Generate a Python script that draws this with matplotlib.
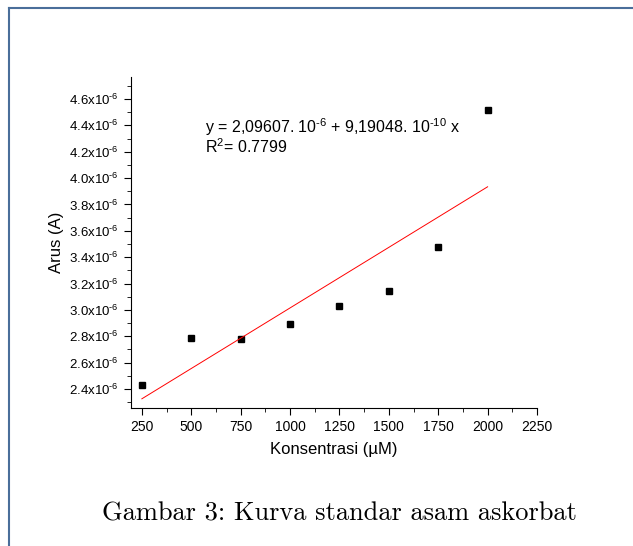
import numpy as np
import matplotlib.pyplot as plt
from matplotlib.lines import Line2D
from matplotlib.ticker import MultipleLocator, FuncFormatter

plt.rcParams['mathtext.fontset'] = 'custom'
plt.rcParams['mathtext.rm'] = 'Liberation Sans'
plt.rcParams['mathtext.it'] = 'Liberation Sans'
plt.rcParams['font.family'] = 'Liberation Sans'

# data (konsentrasi uM, arus A)
konsentrasi = [250, 500, 750, 1000, 1250, 1500, 1750, 2000]
arus = [2.43e-6, 2.79e-6, 2.78e-6, 2.89e-6, 3.03e-6, 3.14e-6, 3.48e-6, 4.52e-6]
intercept = 2.09607e-6
slope = 9.19048e-10

fig = plt.figure(figsize=(6.33, 5.46), dpi=100)
ax = fig.add_axes([131/633, 1-408/546, (537-131)/633, (408-77)/546])

ax.plot(konsentrasi, arus, 's', color='black', markersize=5)
xf = np.array([konsentrasi[0], konsentrasi[-1]])
ax.plot(xf, intercept + slope*xf, color='red', lw=0.7)

ax.set_xlim(195, 2250)
ax.set_ylim(2.256e-6, 4.767e-6)
ax.xaxis.set_major_locator(MultipleLocator(250))
ax.xaxis.set_minor_locator(MultipleLocator(125))
ax.yaxis.set_major_locator(MultipleLocator(0.2e-6))
ax.yaxis.set_minor_locator(MultipleLocator(0.1e-6))
ax.yaxis.set_major_formatter(FuncFormatter(lambda v, p: r'%.1fx10$^{\text{-6}}$' % (v*1e6)))
for s in ['top', 'right']:
    ax.spines[s].set_visible(False)
ax.tick_params(which='major', direction='out', length=5, labelsize=9.5)
ax.tick_params(axis='x', labelsize=10)
ax.tick_params(which='minor', direction='out', length=3)
ax.set_xlabel('Konsentrasi (µM)', fontsize=12, labelpad=6)
ax.set_ylabel('Arus (A)', fontsize=12, labelpad=4)

ax.text(205/633, 1-127/546, r'y = 2,09607. 10$^{\text{-6}}$ + 9,19048. 10$^{\text{-10}}$ x',
        transform=fig.transFigure, fontsize=11.5, va='center')
ax.text(205/633, 1-147/546, r'R$^{2}$= 0.7799',
        transform=fig.transFigure, fontsize=11.5, va='center')

fig.text(339/633, 1-514/546, 'Gambar 3: Kurva standar asam askorbat',
         family='cmr10', fontsize=19, ha='center', va='center')

border = '#4a6e9a'
fig.add_artist(Line2D([9/633, 9/633], [0, 1-8/546], color=border, lw=1.5, transform=fig.transFigure))
fig.add_artist(Line2D([9/633, 1], [1-8/546, 1-8/546], color=border, lw=1.5, transform=fig.transFigure))

fig.savefig('out.png', dpi=100)
